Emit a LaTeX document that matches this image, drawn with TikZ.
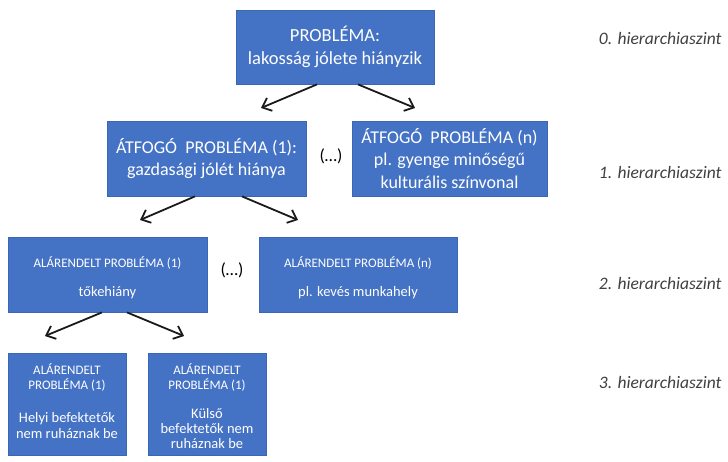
\documentclass[tikz,border=0pt]{standalone}
\usepackage{fontspec}
\setmainfont{Carlito}
\usetikzlibrary{arrows.meta}
\definecolor{boxblue}{HTML}{4472C4}
\definecolor{boxedge}{HTML}{3A67B5}
\definecolor{labelgray}{HTML}{404040}
\definecolor{arrowink}{HTML}{1A1A1A}
\begin{document}
\begin{tikzpicture}[x=1pt,y=-1pt,
  pbox/.style={draw=boxedge, line width=0.8pt, fill=boxblue, text=white,
    align=center, inner sep=0pt},
  ptext/.style={text=white, align=center, inner sep=0pt},
  conn/.style={draw=arrowink, line width=1.8pt,
    -{Straight Barb[length=8pt,width=14pt,line width=1.8pt]}},
  level/.style={anchor=east, text=labelgray, font=\fontsize{17.5}{20}\selectfont\itshape},
  gap/.style={text=black}]
\useasboundingbox (0,0) rectangle (728,462);

% level 0
\node[pbox, minimum width=198pt, minimum height=74pt,
  font=\fontsize{18.5}{23}\selectfont] (p0) at (335,47)
  {PROBLÉMA:\\lakosság jólete hiányzik};

% level 1
\node[pbox, minimum width=199pt, minimum height=75pt,
  font=\fontsize{18}{21.5}\selectfont] (p1a) at (206.5,158.5)
  {ÁTFOGÓ\ \ PROBLÉMA (1):\\gazdasági jólét hiánya};
\node[pbox, minimum width=195pt, minimum height=75pt,
  font=\fontsize{18}{22.5}\selectfont] (p1n) at (449.5,158.5)
  {ÁTFOGÓ\ \ PROBLÉMA (n)\\pl. gyenge minőségű\\kulturális színvonal};
\node[gap, font=\fontsize{17.5}{20}\selectfont] (g1) at (331,156) {(…)};

% level 2
\node[pbox, minimum width=199pt, minimum height=75pt] (p2a) at (107.5,274.5) {};
\node[pbox, minimum width=198pt, minimum height=75pt] (p2n) at (358,274.5) {};
\node[ptext, font=\fontsize{13}{29}\selectfont] (t2a) at (107.5,277.5)
  {ALÁRENDELT PROBLÉMA (1)\\{\fontsize{14.5}{29}\selectfont tőkehiány}};
\node[ptext, font=\fontsize{13}{29}\selectfont] (t2n) at (358,277.5)
  {ALÁRENDELT PROBLÉMA (n)\\{\fontsize{14.5}{29}\selectfont pl. kevés munkahely}};
\node[gap, font=\fontsize{17.5}{20}\selectfont] (g2) at (232,270) {(…)};

% level 3
\node[pbox, minimum width=118pt, minimum height=102pt, anchor=north] (p3a) at (67,353) {};
\node[pbox, minimum width=118pt, minimum height=102pt, anchor=north] (p3b) at (207,353) {};
\node[ptext, font=\fontsize{13}{15.5}\selectfont] (h3a) at (67,377.5)
  {ALÁRENDELT\\PROBLÉMA (1)};
\node[ptext, font=\fontsize{14.5}{16}\selectfont] (t3a) at (67,426)
  {Helyi befektetők\\nem ruháznak be};
\node[ptext, font=\fontsize{13}{15.5}\selectfont] (h3b) at (207,377.5)
  {ALÁRENDELT\\PROBLÉMA (1)};
\node[ptext, font=\fontsize{14.5}{15}\selectfont] (t3b) at (207,428.5)
  {Külső\\befektetők nem\\ruháznak be};

% hierarchy level labels
\node[level] (l0) at (725,38) {0. hierarchiaszint};
\node[level] (l1) at (725,172) {1. hierarchiaszint};
\node[level] (l2) at (725,283) {2. hierarchiaszint};
\node[level] (l3) at (725,382) {3. hierarchiaszint};

% arrow end points
\coordinate (e0a) at (261,108);
\coordinate (e0b) at (415,108);
\coordinate (e1a) at (140,220);
\coordinate (e1b) at (298,220);
\coordinate (e2a) at (45,336);
\coordinate (e2b) at (184,336);

% connectors
\draw[conn] ([xshift=-18pt]p0.south) -- (e0a);
\draw[conn] ([xshift=23pt]p0.south) -- (e0b);
\draw[conn] ([xshift=-11.5pt]p1a.south) -- (e1a);
\draw[conn] ([xshift=35.5pt]p1a.south) -- (e1b);
\draw[conn] ([xshift=-5.5pt]p2a.south) -- (e2a);
\draw[conn] ([xshift=19.5pt]p2a.south) -- (e2b);
\end{tikzpicture}
\end{document}
